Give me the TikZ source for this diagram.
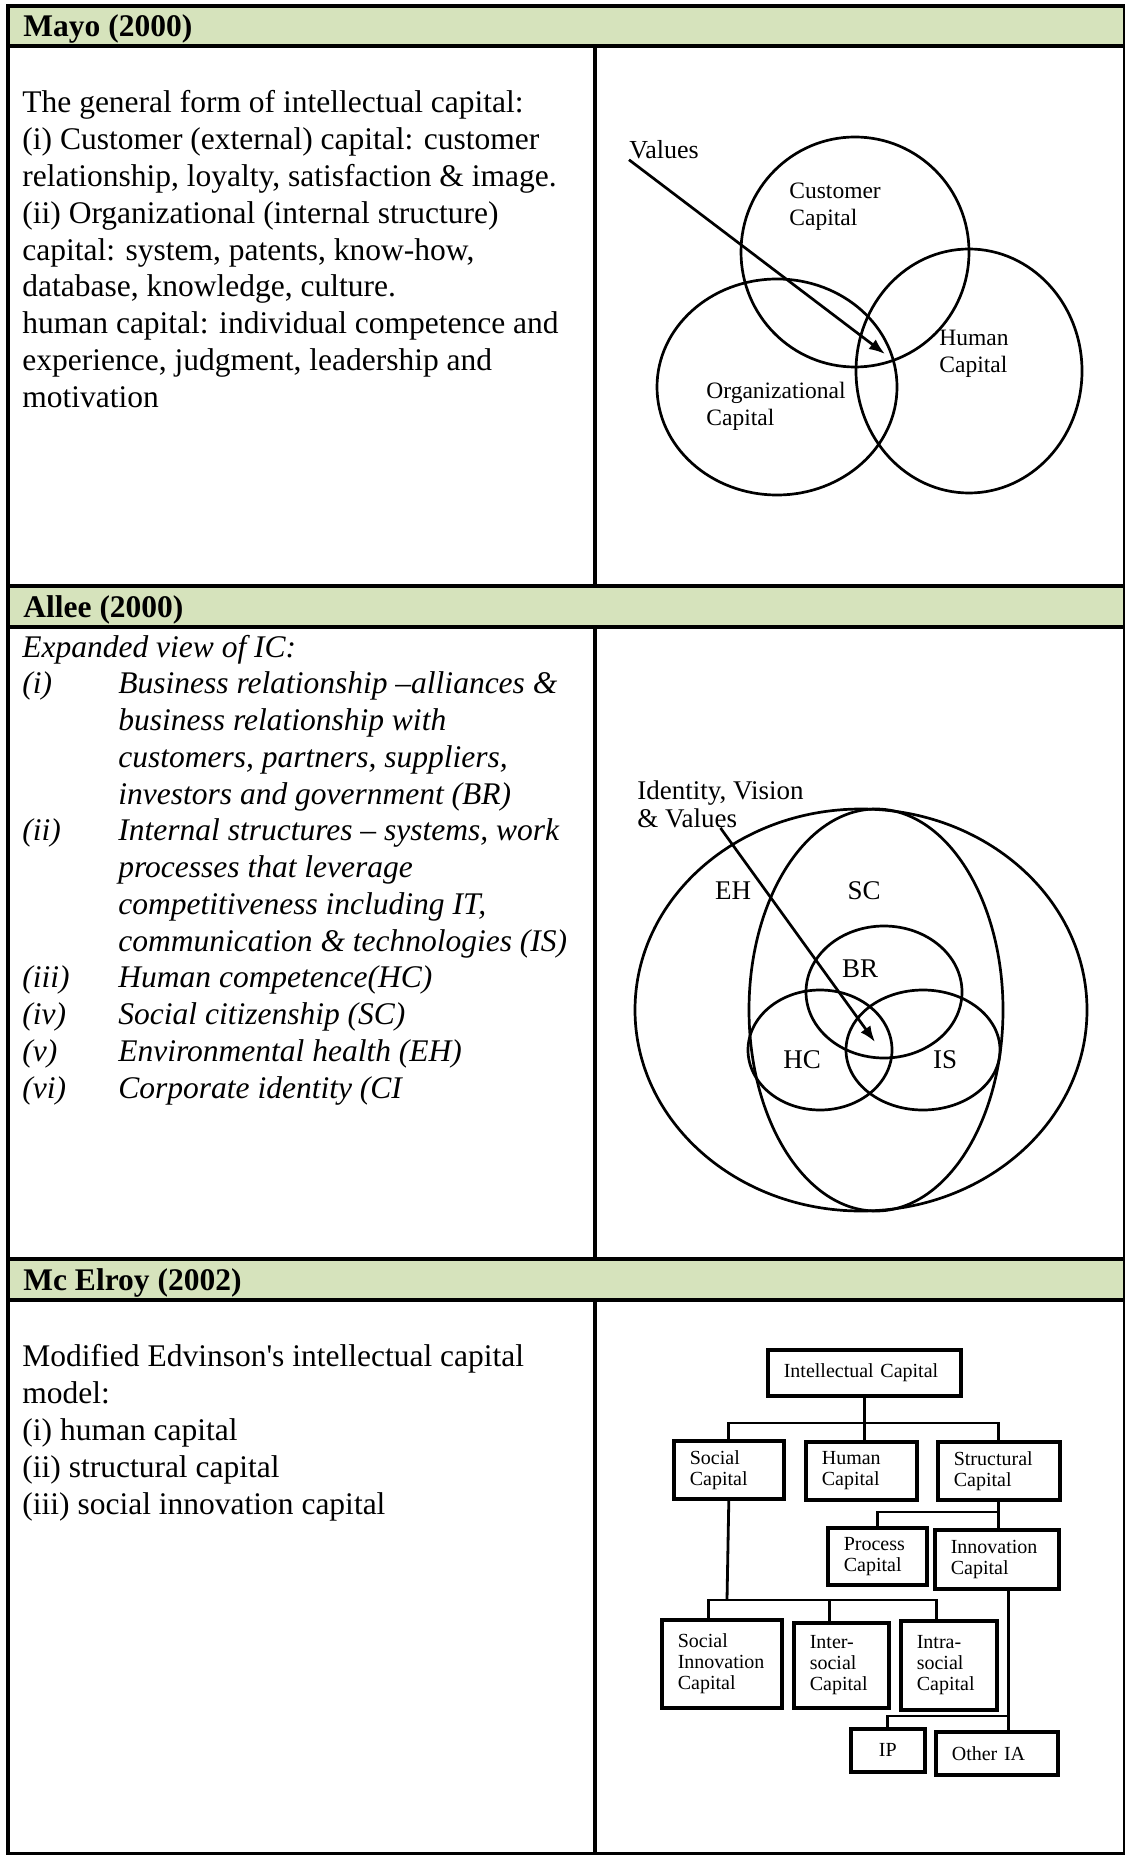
\documentclass[tikz,border=0pt]{standalone}
\usepackage{fontspec}
\setmainfont{Liberation Serif}
\usetikzlibrary{arrows.meta}
\definecolor{headgreen}{HTML}{D6E3BC}
\newcommand\bodysize{\fontsize{15.75pt}{18.4pt}\selectfont}
\newcommand\vennsize{\fontsize{11.75pt}{13.5pt}\selectfont}
\newcommand\alleesize{\fontsize{13.5pt}{14pt}\selectfont}
\newcommand\chartsize{\fontsize{10pt}{10.5pt}\selectfont}
\tikzset{
  tabrule/.style={line width=2pt},
  headtxt/.style={anchor=base west,inner sep=0pt,font=\bfseries\bodysize},
  body/.style={anchor=base west,inner sep=0pt,font=\bodysize},
  ibody/.style={body,font=\itshape\bodysize},
  ring/.style={line width=1.35pt},
  vlab/.style={inner sep=0pt,align=left,anchor=west,font=\vennsize},
  alab/.style={inner sep=0pt,font=\alleesize},
  pointer/.style={line width=1.35pt,-{Latex[length=8pt,width=6pt]}},
  capbox/.style={draw,line width=1.8pt,anchor=north west,align=left,
    inner xsep=8pt,inner ysep=0pt,font=\chartsize},
  link/.style={line width=1.4pt},
}
\begin{document}
\begin{tikzpicture}[x=0.5pt,y=-0.5pt]
\useasboundingbox (0,0) rectangle (1124,1855);
\fill[headgreen] (8,6) rectangle (1125,46);
\fill[headgreen] (8,586) rectangle (1125,627);
\fill[headgreen] (8,1259) rectangle (1125,1300);
\draw[tabrule] (8,6) rectangle (1125,1854);
\foreach \y in {46,586,627,1259,1300}
\draw[tabrule] (8,\y) -- (1125,\y);
\foreach \ya/\yb in {46/586,627/1259,1300/1854}
\draw[tabrule] (595,\ya) -- (595,\yb);
\node[headtxt] (mayo) at (23,37) {Mayo (2000)};
\node[headtxt] (allee) at (23,617.5) {Allee (2000)};
\node[headtxt] (mcelroy) at (23,1290.5) {Mc Elroy (2002)};
% Mayo
\foreach \txt [count=\i from 0] in {{The general form of intellectual capital:},
  {(i) Customer (external) capital: customer},
  {relationship, loyalty, satisfaction \& image.},
  {(ii) Organizational (internal structure)},
  {capital: system, patents, know-how,},
  {database, knowledge, culture.},
  {human capital: individual competence and},
  {experience, judgment, leadership and},
  {motivation}}
\node[body] (mayo\i) at (22,113+36.8*\i) {\txt};
\node[vlab,anchor=base west,font=\fontsize{13pt}{14pt}\selectfont] (values) at (629,159) {Values};
\node[vlab] (cust) at (789,207) {Customer\\Capital};
\node[vlab] (humcap) at (939,354) {Human\\Capital};
\node[vlab] (orgcap) at (706,406) {Organizational\\Capital};
\draw[ring] (855,252) ellipse [x radius=114,y radius=115];
\draw[ring] (777,387) ellipse [x radius=120,y radius=108];
\draw[ring] (969,371) ellipse [x radius=113,y radius=122];
\coordinate (vcore) at (885,354);
\draw[pointer] (values.south west) -- (vcore);
% Allee
\node[ibody] (alleehead) at (22,657) {Expanded view of IC:};
\foreach \txt [count=\i] in {{Business relationship --alliances \&},
  {business relationship with},
  {customers, partners, suppliers,},
  {investors and government (BR)},
  {Internal structures -- systems, work},
  {processes that leverage},
  {competitiveness including IT,},
  {communication \& technologies (IS)},
  {Human competence(HC)},
  {Social citizenship (SC)},
  {Environmental health (EH)},
  {Corporate identity (CI}}
\node[ibody] (allee\i) at (118,657+36.75*\i) {\txt};
\foreach \lab/\ln in {{(i)}/1,{(ii)}/5,{(iii)}/9,{(iv)}/10,{(v)}/11,{(vi)}/12}
\node[ibody] (lab\ln) at (22,657+36.75*\ln) {\lab};
\node[vlab,font=\alleesize] (ivv) at (637,804) {Identity, Vision\\\& Values};
\draw[ring] (861,1010) ellipse [x radius=226,y radius=201];
\draw[ring] (876,1010) ellipse [x radius=127,y radius=201];
\draw[ring] (884,992) ellipse [x radius=78,y radius=66];
\draw[ring] (820,1050) ellipse [x radius=72,y radius=60];
\draw[ring] (923,1050) ellipse [x radius=77,y radius=60];
\node[alab] (eh) at (733,891) {EH};
\node[alab] (sc) at (864,891) {SC};
\node[alab] (br) at (860,969) {BR};
\node[alab] (hc) at (802,1060) {HC};
\node[alab] (is) at (945,1060) {IS};
\coordinate (iccore) at (875,1042);
\draw[pointer] (ivv.south) -- (iccore);
% Mc Elroy
\foreach \txt [count=\i from 0] in {{Modified Edvinson\textquotesingle s intellectual capital},
  {model:},
  {(i) human capital},
  {(ii) structural capital},
  {(iii) social innovation capital}}
\node[body] (mce\i) at (22,1366.6+37*\i) {\txt};
\node[capbox,text width=80.5pt,minimum height=23pt] (ic) at (766,1348) {Intellectual Capital};
\node[capbox,text width=39pt,minimum height=29pt] (soc) at (672,1439) {Social\\Capital};
\node[capbox,text width=39.5pt,minimum height=29pt] (hum) at (804,1440) {Human\\Capital};
\node[capbox,text width=45pt,minimum height=29pt] (str) at (936,1440) {Structural\\Capital};
\node[capbox,text width=33.5pt,minimum height=28.5pt] (proc) at (826,1526) {Process\\Capital};
\node[capbox,text width=46pt,minimum height=29.5pt] (inn) at (933,1528) {Innovation\\Capital};
\node[capbox,text width=44pt,minimum height=44pt] (sic) at (660,1618) {Social\\Innovation\\Capital};
\node[capbox,text width=31.5pt,minimum height=42.5pt] (inter) at (792,1621) {Inter-\\social\\Capital};
\node[capbox,text width=32pt,minimum height=44.5pt] (intra) at (899,1619) {Intra-\\social\\Capital};
\node[capbox,text width=21pt,minimum height=21.5pt,align=center] (ip) at (849,1727) {IP};
\node[capbox,text width=45pt,minimum height=21.5pt] (oia) at (934,1730) {Other IA};
\coordinate (bar1) at (862.5,1423);
\coordinate (bar2) at (997,1512);
\coordinate (bar3) at (727,1600);
\coordinate (bar4) at (1007,1716);
\draw[link] (ic.south) -- (ic.south |- hum.north);
\draw[link] (soc.north) |- (bar1) -| (str.north);
\draw[link] (str.south) -- (str.south |- inn.north);
\draw[link] (proc.north) |- (bar2);
\draw[link] (soc.south) -- (bar3);
\draw[link] ([xshift=-6.5pt]sic.north) |- (bar3) -| ([xshift=-6pt]intra.north);
\draw[link] ([xshift=-5.75pt]inter.north) |- (bar3);
\draw[link] ([xshift=6pt]inn.south) -- ([xshift=6pt]oia.north);
\draw[link] (ip.north) |- (bar4);
\end{tikzpicture}
\end{document}
